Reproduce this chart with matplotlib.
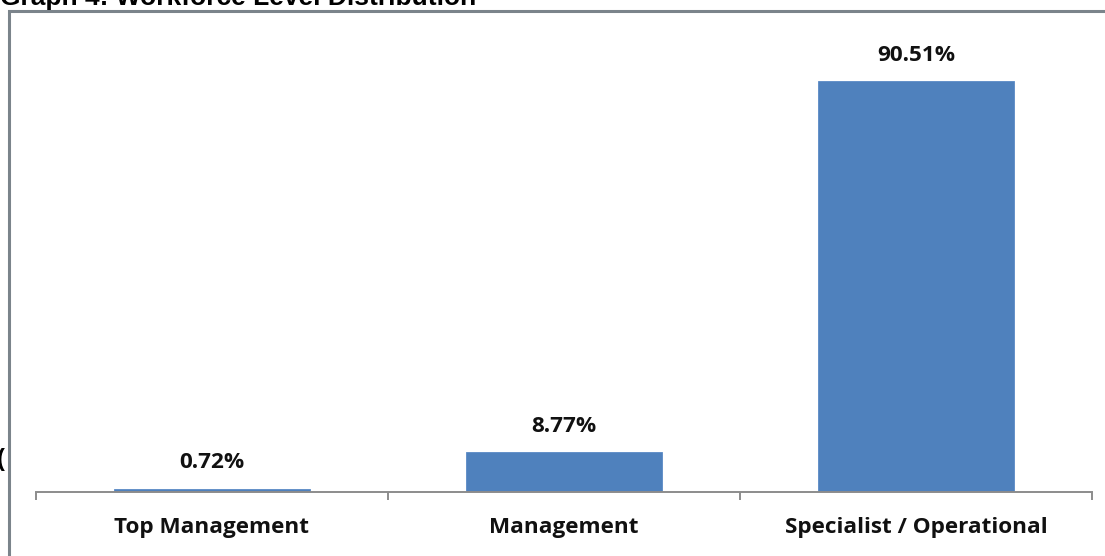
import matplotlib
matplotlib.use("Agg")
import matplotlib.pyplot as plt
from matplotlib.patches import Rectangle

categories = ["Top Management", "Management", "Specialist / Operational"]
shares = [0.72, 8.77, 90.51]
value_labels = ["0.72%", "8.77%", "90.51%"]
title = "Graph 4: Workforce Level Distribution"

W, H = 1105, 556
fig = plt.figure(figsize=(W / 100, H / 100), dpi=100)
fig.patch.set_facecolor("white")

label_font = dict(fontsize=16.2, fontweight="bold", family="Open Sans", color="#111111")

# plot area in pixel terms
left, right, bottom, top = 36, 1092, 492, 38
ax = fig.add_axes([left / W, 1 - bottom / H, (right - left) / W, (bottom - top) / H])

x = list(range(len(categories)))
ax.bar(x, shares, width=0.554, color="#4f81bd", edgecolor="#5a8ac6", linewidth=0.6, zorder=2)
ax.set_xlim(-0.5, len(categories) - 0.5)
ax.set_ylim(0, 100)

for xi, v, lab in zip(x, shares, value_labels):
    ax.annotate(lab, (xi, v), xytext=(0, 11), textcoords="offset points",
                ha="center", va="bottom", **label_font)

for s in ["top", "right", "left"]:
    ax.spines[s].set_visible(False)
ax.spines["bottom"].set_color("#8c8c8c")
ax.spines["bottom"].set_linewidth(1.4)
ax.set_yticks([])

ax.set_xticks(x)
ax.set_xticklabels(categories, **label_font)
ax.tick_params(axis="x", which="major", length=0, pad=18)
ax.set_xticks([i - 0.5 for i in range(len(categories) + 1)], minor=True)
ax.tick_params(axis="x", which="minor", length=6, width=1.4, color="#8c8c8c", direction="out")

# outer chart frame
fig.patches.append(Rectangle((9 / W, -0.2), 1.2, 1.2 - 11 / H, transform=fig.transFigure,
                             fill=False, edgecolor="#7b848b", linewidth=2.2, clip_on=False))

fig.text(0.5 / W, 1 - 5 / H, title, ha="left", va="baseline", fontsize=19,
         fontweight="bold", family="Liberation Sans", color="#000000")
fig.text(-3 / W, 1 - 466 / H, "(", ha="left", va="baseline", fontsize=17,
         fontweight="bold", family="Liberation Sans", color="#000000")

fig.savefig("out.png", dpi=100)
